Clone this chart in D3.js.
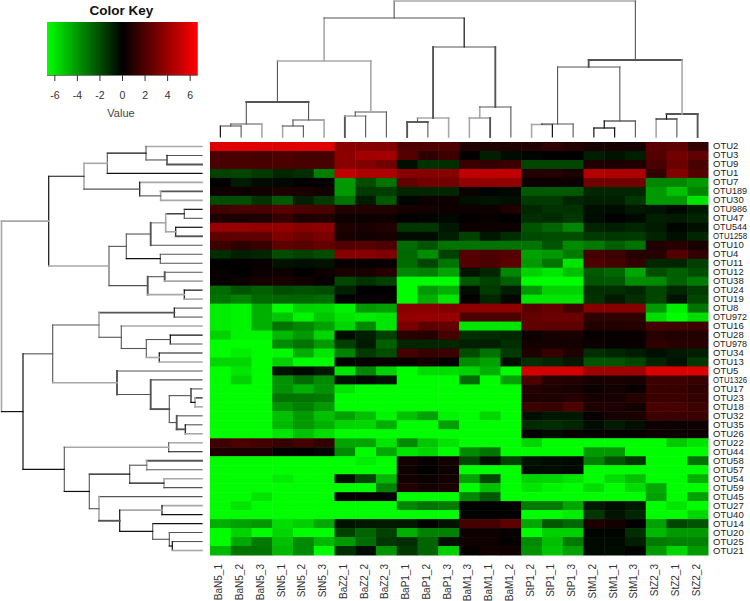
<!DOCTYPE html>
<html>
<head>
<meta charset="utf-8">
<style>
  html, body { margin: 0; padding: 0; background: #fff; }
  text { font-family: "Liberation Sans", Arial, sans-serif; }
</style>
<script src="https://d3js.org/d3.v7.min.js"></script>
</head>
<body>
<div id="chart"></div>
<script>
const colNames = ["BaN5_1","BaN5_2","BaN5_3","StN5_1","StN5_2","StN5_3","BaZ2_1","BaZ2_2","BaZ2_3","BaP1_1","BaP1_2","BaP1_3",
  "BaM1_3","BaM1_1","BaM1_2","StP1_2","StP1_1","StP1_3","StM1_2","StM1_1","StM1_3","StZ2_3","StZ2_1","StZ2_2"];
const rowNames = ["OTU2","OTU3","OTU9","OTU1","OTU7","OTU189","OTU30","OTU986","OTU47","OTU544","OTU1258","OTU10","OTU4","OTU11",
  "OTU12","OTU38","OTU24","OTU19","OTU8","OTU972","OTU16","OTU28","OTU978","OTU34","OTU13","OTU5","OTU1326","OTU17","OTU23","OTU18",
  "OTU32","OTU35","OTU26","OTU22","OTU44","OTU58","OTU57","OTU54","OTU59","OTU45","OTU27","OTU40","OTU14","OTU20","OTU25","OTU21"];
const keyTicks = [-6,-4,-2,0,2,4,6];

// log ratios, one line per OTU
const values = [
[5.8,5.8,5.8,5.8,5.8,5.8,3.6,3.5,3.4,2,2,2,.9,.8,.8,.9,1.2,.9,.6,.6,.6,2.3,2.4,1.3],
[1.9,1.9,1.8,2,1.8,1.8,3.7,4.2,4.3,2.2,1.2,1.6,.1,-.8,-.3,-.1,0,0,-.8,-.5,-.8,2.2,3,2.5],
[1.9,1.9,1.9,2,1.9,1.9,3.6,3.4,3,-.4,-1.3,-1.2,1.5,1.3,1.5,-1.8,-1.8,-1.8,.8,.7,.8,1.9,2.8,1.9],
[-1.7,-1.8,-1.5,-1,-1.2,-3.3,5,4.5,4.5,3.5,3.5,3.5,5,5,5,.9,1,.7,4.7,4.5,4.5,1.3,3.4,2.2],
[0,-.7,-.3,-.2,.1,0,-4,-2,-3,2.5,3,3,3.8,3.8,3.8,.3,.3,.3,3,3,3,-3.5,-3.5,-4],
[.4,.4,.5,.8,.7,.5,-4,-1.5,-1.6,-1,-1,-1,.3,-.1,-.2,-2.3,-2.3,-2.3,-1,-1,-1,-4,-5,-3.5],
[-2,-2,-1.3,-2.3,-.8,-1.5,-3,-.7,-2.3,-.1,.3,.4,-.4,-.5,-.4,-1.5,-1.5,-1,-.8,-.8,-1.4,-4,-4,-6],
[1.7,1.9,1.9,2.3,2,1.9,.9,.9,.9,.6,.5,.3,.3,.3,.8,-1,-1.3,-1.3,-.4,-.3,-.6,-.5,-.2,-.6],
[.8,.7,.8,1.4,.8,.9,.3,.3,.4,0,-.1,-.2,.1,.2,0,-1.2,-1.1,-1.4,-.3,0,-.2,-.8,-.7,-.9],
[3.9,3.9,3.8,3.8,3.6,3.7,.8,.7,.9,-1.4,-1.4,-.6,.4,.3,.3,-2.2,-2.6,-3.5,-.9,-.8,-1,-.7,-.1,-.4],
[2.4,2.5,2.5,3.3,2.9,3.2,.6,.5,.6,-.3,-.3,-.8,-1.7,-.6,-1.2,-1.9,-2,-2,-1.5,-1.4,-1.5,-.9,-.4,-1],
[1.6,1.2,1.5,2.4,2.3,2.6,2.1,2.3,2,-2.8,-2.2,-3,-3,-3,-3,-3,-2.2,-3.6,-3.2,-2.5,-3,.8,1,.6],
[-1.2,-.8,-1,-2,-1.7,-2,3.5,3.5,3.3,-2.7,-3.7,-1.7,2.2,2,2.2,-4.2,-4,-3.2,1.8,1.6,1,1,2.2,1.3],
[0,.1,.2,-.5,-.4,-.5,.2,.2,.2,-2.8,-1.8,-3,2.2,2,2.4,-4,-3,-6,2,1.8,1.3,-1,-.9,-1.6],
[.2,0,.3,.4,0,.3,.7,.6,1,-3.5,-3.3,-4.2,-.5,-1,-3.5,-5.5,-6,-5,-2.3,-2.7,-4.3,-2,-2.5,-2],
[.2,.3,.6,.7,.5,.2,-1.8,-1.3,-1.7,-6.6,-6.6,-6.6,-2.3,-1.7,-2.5,-6.6,-6.6,-6.6,-2.2,-2.3,-3.7,-3.6,-2.5,-3.2],
[-2.8,-2.2,-2.5,-2,-2.1,-2,-.8,0,0,-6.6,-4,-4.6,-.3,-1.5,-.7,-4,-5.5,-5.5,-1.2,-1.2,-1,-1.8,-1,-1.5],
[-3,-3.4,-2.7,-2.6,-2.6,-2.8,0,.2,.2,-6.6,-4.5,-6,0,-1,-.2,-6,-6,-6,-1.3,-.6,-1.2,-1.8,-.5,-1.8],
[-6.2,-6.4,-4.6,-6.6,-5.5,-5.6,-6.3,-4,-4.2,3.6,3.6,3.4,3.7,3.7,3.7,2.3,2.6,1.8,3.5,3.5,3.5,-4,-6.2,-3],
[-6.2,-6.4,-4.6,-5.2,-6.4,-5.2,-6,-6.2,-6,3.8,3.9,3.9,2,2,2,2.6,2.8,2.8,1.2,1.2,1.2,-5.8,-6.6,-5.8],
[-6.2,-6.4,-4.6,-3,-3.5,-4.2,-5.6,-3.6,-6,3.2,2.4,2.6,-6,-6,-6,2.5,2.4,2.4,.9,.9,1,1.8,1.7,1.7],
[-5.5,-6.4,-6.4,-4.8,-4,-5.6,-.3,-.8,-1.7,1.1,1,1.8,-1.2,-1.1,-1,.3,.6,.7,.2,.2,.2,1,.9,.9],
[-6.6,-6.6,-6.6,-3.6,-3,-4,-1.6,-.7,-2.5,-1,-1,-1,-.8,-.8,-1.2,.5,.5,.5,.3,.2,.2,1.2,1,1],
[-6.6,-6.2,-6.6,-6.5,-4.5,-6,-3.4,-1.5,-2,1.8,1.4,1.6,-2,-3,-1.5,.8,1.4,.8,-1.2,-1,-.7,-.4,-.6,-.8],
[-5.6,-5.6,-6.6,-5.5,-6.6,-6.6,0,.2,.2,.2,.5,0,-3.6,-4.2,-.4,-1.2,-1,-.6,-2.2,-2.2,-1.8,-1,-.5,-1.4],
[-6.6,-6,-6.6,-.5,-.2,-.6,-6,-3.5,-5.5,-6.6,-5.8,-5.8,-5.5,-4.6,-6.6,5.5,5.5,5.5,4.2,4.2,4.2,5.7,5.7,5.7],
[-6.6,-5.5,-6.6,-3.8,-2.8,-3.6,-.5,-.2,-.5,-6.6,-6.6,-6.6,-2.8,-6.6,-4.2,2,1,.9,.6,.7,.6,1.6,1.6,1.4],
[-6.6,-6.6,-6.6,-3.8,-4.6,-3.8,-6,-6.6,-6.6,-6.6,-6.6,-6.6,-6.6,-6.6,-6.6,1,.8,.6,.3,.5,.2,1.5,1.4,1.2],
[-6.6,-6.6,-6.6,-3,-3,-3.2,-6.6,-6.6,-6.6,-6.6,-6.6,-6.6,-6.6,-6.6,-6.6,.8,.8,1,.6,.6,1,1.5,1.5,1.3],
[-6.6,-6.6,-6.6,-3.8,-3.3,-4,-6.6,-6.6,-6.6,-6.6,-6.6,-6.6,-6.6,-6.6,-6.6,1.6,1.4,2,.8,.8,.5,1.9,1.8,1.6],
[-6.6,-6.6,-6.6,-5,-4,-5,-4.2,-5,-6.4,-5,-4.2,-6.4,-6.6,-5.6,-6.6,-.4,-.6,-.6,.2,.6,.7,1.6,1.6,1.5],
[-6.6,-6.6,-6.6,-4.8,-4,-4.6,-5.6,-5.6,-4.6,-6.6,-6.6,-4.2,-6.6,-6.6,-6.6,-1.1,-1.2,-1,-.3,-.7,-.4,.3,.3,.3],
[-6.6,-6.6,-6.6,-6,-5,-5.8,-6.6,-6.6,-6.6,-6.6,-6.6,-6.6,-6.6,-6.6,-6.6,.1,-.3,.2,.1,.1,.1,.3,.4,.3],
[1.7,2,1.8,1.4,1.8,1.3,-4.3,-4.3,-6,-3.6,-5.2,-6,-6.6,-6.6,-6.6,-5.6,-6.6,-6.6,-6.6,-6.6,-6.6,-6.6,-5.3,-6],
[.8,.7,.7,-.1,0,-.2,-3.6,-6.6,-4.4,-6,-5.6,-6.6,-3.6,-3,-6.6,-6.6,-6.6,-6.6,-4,-4,-6.6,-6.6,-6.6,-6.6],
[-6.6,-6.6,-6.6,-6.6,-6.6,-6.6,-6.6,-6.2,-6.6,.5,.2,.5,-1.8,-.4,-1.7,-.5,-.3,-.2,-3.4,-2.2,-1.4,-6.6,-6.6,-3],
[-6.6,-6.6,-6.6,-6.6,-6.6,-6.6,-6.6,-6.6,-6.6,.4,0,.3,-6.6,-6.6,-6.6,-.3,-.3,-.2,-6.6,-6.6,-6.6,-6.6,-6.6,-6.6],
[-6.6,-6.6,-6.6,-6.2,-6.6,-6.6,-.4,-1.8,-4.8,.5,.3,.5,-4.2,-1.8,-6.6,-5.5,-5.6,-6,-6.6,-5.8,-5,-6.6,-6.6,-4.6],
[-6.6,-6.6,-6.6,-6.6,-6.6,-6.6,-6.6,-6.6,-3.4,.9,.5,.7,-6.6,-5,-6.6,-6,-6.4,-6.6,-5.8,-6.6,-5.8,-4.4,-6.6,-6.6],
[-6.6,-6.6,-6,-6.6,-6.6,-6.6,0,0,0,-6.6,-6.6,-6.6,-3.5,-2.3,-6.6,-6.6,-6.6,-6.6,-6.6,-6.6,-6.6,-4.2,-6.6,-4.2],
[-6.6,-6,-6.6,-6.6,-6.6,-6.6,-6.6,-6.6,-6.6,-3.5,-3,-3.2,0,0,.1,-3.2,-3.2,-4.3,-.6,-.3,-.6,-6.6,-6,-6.6],
[-6.6,-6.6,-6.6,-6.6,-6.6,-6.6,-6.6,-6.6,-6.6,-6.6,-6.6,-6.6,-.1,0,0,-6.6,-6.6,-6.2,-1.4,-.5,-1,-6.6,-6.6,-5.6],
[-4.6,-4.2,-4,-5.8,-5.4,-4.4,-.5,-.6,-.7,-.6,-.1,-.5,1.8,1.8,2.4,-4.4,-2.3,-2.7,.7,.5,0,-4.2,-1.8,-2.2],
[-6.6,-5.5,-6.6,-5.6,-6.6,-6.6,-1.7,-2.6,-1.7,-4.6,-3.4,-3.4,.4,.4,.2,-6.6,-5.4,-5.4,-.1,-.1,-1.2,-4.8,-4,-4],
[-6.6,-4.4,-3.2,-5,-3.6,-4.8,-4,-2.8,-1.4,-1.2,-2.6,-.4,.4,.4,.1,-3.6,-5,-3.2,-.2,-.2,-.8,-3.2,-3.4,-3.4],
[-4.8,-3,-3,-4.8,-3.6,-6.6,-1.2,-.3,-3.8,-1.4,-2.6,-5.4,.1,.5,.4,-3.8,-5.2,-4.2,-.2,-.3,-.1,-4,-5.6,-4]
];

// dendrograms as nested [height, left, right], leaves are names
const colTree = [136,
  [119,
    [76,
      [35,
        [13, [11,"BaN5_1","BaN5_2"], "BaN5_3"],
        [17, [11,"StN5_1","StN5_2"], "StN5_3"]],
      [25, [21,"BaZ2_1","BaZ2_2"], "BaZ2_3"]],
    [90,
      [19, [15,"BaP1_1","BaP1_2"], "BaP1_3"],
      [30, [19,"BaM1_3","BaM1_1"], "BaM1_2"]]],
  [77,
    [70,
      [13, [12.5,"StP1_2","StP1_1"], "StP1_3"],
      [16, [9,"StM1_2","StM1_1"], "StM1_3"]],
    [23, [18,"StZ2_3","StZ2_1"], "StZ2_2"]]];

const rowTree = [200.5,
  [153.3,
    [118,
      [94.7,
        [56, "OTU2", [35,"OTU3","OTU9"]],
        "OTU1"],
      [62.3, "OTU7", [41.3,"OTU189","OTU30"]]],
    [93,
      [75.7,
        [51.3,
          [36.3, [17.7,"OTU986","OTU47"], [26.3,"OTU544","OTU1258"]],
          "OTU10"],
        [41.7,"OTU4","OTU11"]],
      [54.3, [37.3,"OTU12","OTU38"], [17.7,"OTU24","OTU19"]]]],
  [179,
    [149.3,
      [103,
        [27.7,"OTU8","OTU972"],
        [80.7, "OTU16",
          [55.7, [31.7,"OTU28","OTU978"], [42.7,"OTU34","OTU13"]]]],
      [85, "OTU5",
        [51.3, "OTU1326",
          [32.7,
            [11, "OTU17", [7,"OTU23","OTU18"]],
            [25.3, "OTU32", [16.7,"OTU35","OTU26"]]]]]],
    [137.7,
      [33.3,"OTU22","OTU44"],
      [112.7,
        [72.3, [55.3,"OTU58","OTU57"], [38,"OTU54","OTU59"]],
        [103, "OTU45",
          [82.3,
            [40,"OTU27","OTU40"],
            [49.3, "OTU14",
              [32.7, "OTU20", [29.7,"OTU25","OTU21"]]]]]]]]];

// line look of each merge, in tree walk order: first stem, bar, second stem
const topLook = ["kdd","ddg","gdd","ddg","dDd","Dgd","ddd","dgg","DDd","dgg","ggD","gdd","DdD","gdk",
  "ggk","kdd","kkk","kkd","ddd","gkd","kDD","DDg","dgd"];
const leftLook = ["dkD","gdd","kdk","Dgg","gkd","ggd","kdd","kkD","kgg","gDd","ddd","ddk","dDg","kkg","dDg","ddd","kkg",
  "dkd","kkd","kkg","ddg","gdd","Dgd","kgg","dkk","dkg","dDD","ddd","dDD","dDd","ddg",
  "gdk","Dgd","ggd","ddk","gkk","dkg","ddk","kdd","gkk","dgD","kdd","gdk","dkk","ggk"];
const lineStyle = {
  g: { stroke: "#a8a8a8", width: 1.6 },
  d: { stroke: "#555", width: 1.1 },
  D: { stroke: "#555", width: 1.9 },
  k: { stroke: "#111", width: 1.2 }
};

const W = 750, H = 601;
const heat = { left: 210, right: 708, top: 142, bottom: 555 };
const svg = d3.select("#chart").append("svg")
  .attr("width", W).attr("height", H)
  .style("display", "block");

const x = d3.scaleBand().domain(colNames).range([heat.left, heat.right]);
const y = d3.scaleBand().domain(rowNames).range([heat.top, heat.bottom]);
const color = d3.scaleLinear().domain([-6.65, 0, 6.65]).range(["#00ff00", "#000000", "#ff0000"]).clamp(true);

// heatmap cells
const cells = values.flatMap((row, i) => row.map((v, j) => ({ r: rowNames[i], c: colNames[j], v })));
svg.append("g").selectAll("rect")
  .data(cells).enter().append("rect")
    .attr("x", d => x(d.c))
    .attr("y", d => y(d.r))
    .attr("width", x.bandwidth() + 0.5)
    .attr("height", y.bandwidth() + 0.5)
    .attr("fill", d => color(d.v));

// row labels, stretched a bit sideways like the source and kept inside the page
svg.append("g").selectAll("text")
  .data(rowNames).enter().append("text")
    .attr("x", 713)
    .attr("y", d => y(d) + y.bandwidth() / 2 + 3)
    .attr("font-size", 8.5)
    .attr("fill", "#222")
    .text(d => d)
    .each(function() {
      const len = this.getComputedTextLength();
      d3.select(this)
        .attr("lengthAdjust", "spacingAndGlyphs")
        .attr("textLength", Math.min(len * 1.12, 34));
    });

// column labels
svg.append("g").selectAll("text")
  .data(colNames).enter().append("text")
    .attr("transform", d => `translate(${x(d) + x.bandwidth() / 2 + 2},564) rotate(-90)`)
    .attr("text-anchor", "end")
    .attr("font-size", 10)
    .attr("fill", "#333")
    .text(d => d);

// walk a tree, collect one entry per merge
function collect(node, pos, out) {
  if (typeof node === "string") return { p: pos(node), h: 0 };
  const l = collect(node[1], pos, out), r = collect(node[2], pos, out);
  const p = (l.p + r.p) / 2;
  out.push({ h: node[0], l, r });
  return { p, h: node[0] };
}

// each merge is two stems and a bar, each with its own look
function segments(merges, looks, place) {
  return merges.flatMap((m, i) => {
    const look = looks[i];
    return [
      { a: place(m.l.h, m.l.p), b: place(m.h, m.l.p), s: lineStyle[look[0]] },
      { a: place(m.h, m.l.p), b: place(m.h, m.r.p), s: lineStyle[look[1]] },
      { a: place(m.r.h, m.r.p), b: place(m.h, m.r.p), s: lineStyle[look[2]] }
    ];
  });
}

function drawTree(segs) {
  svg.append("g").selectAll("line")
    .data(segs).enter().append("line")
      .attr("x1", d => d.a[0]).attr("y1", d => d.a[1])
      .attr("x2", d => d.b[0]).attr("y2", d => d.b[1])
      .attr("stroke", d => d.s.stroke)
      .attr("stroke-width", d => d.s.width)
      .attr("stroke-linecap", "square");
}

// top dendrogram
const topMerges = [];
collect(colTree, d => x(d) + x.bandwidth() / 2, topMerges);
const topH = d3.scaleLinear().domain([0, 136]).range([137, 1]);
drawTree(segments(topMerges, topLook, (h, p) => [p, topH(h)]));

// left dendrogram
const leftMerges = [];
collect(rowTree, d => y(d) + y.bandwidth() / 2, leftMerges);
const leftH = d3.scaleLinear().domain([0, 200.5]).range([202, 1.5]);
drawTree(segments(leftMerges, leftLook, (h, p) => [leftH(h), p]));

// colour key
const keyX = d3.scaleLinear().domain([-6.65, 6.65]).range([47, 197]);
const grad = svg.append("defs").append("linearGradient").attr("id", "keyGrad");
grad.selectAll("stop")
  .data(color.domain()).enter().append("stop")
    .attr("offset", d => (keyX(d) - 47) / 150)
    .attr("stop-color", d => color(d));
svg.append("rect")
  .attr("x", 47).attr("y", 22)
  .attr("width", 150).attr("height", 53)
  .attr("fill", "url(#keyGrad)");
svg.append("path")
  .attr("d", "M47,75.5H197.5V22")
  .attr("fill", "none")
  .attr("stroke", "#777");

const keyAxis = svg.append("g")
  .attr("transform", "translate(0,75)")
  .call(d3.axisBottom(keyX).tickValues(keyTicks).tickFormat(d => String(d)).tickSize(6).tickPadding(11));
keyAxis.select(".domain").remove();
keyAxis.selectAll("line").attr("stroke", "#333");
keyAxis.selectAll("text")
  .style("font-size", "10.5px")
  .attr("fill", "#333");

svg.append("text")
  .attr("x", 121.5).attr("y", 15)
  .attr("text-anchor", "middle")
  .attr("font-size", 13.5)
  .attr("font-weight", "bold")
  .attr("fill", "#111")
  .text("Color Key");
svg.append("text")
  .attr("x", 121).attr("y", 117)
  .attr("text-anchor", "middle")
  .attr("font-size", 11)
  .attr("fill", "#444")
  .text("Value");
</script>
</body>
</html>
